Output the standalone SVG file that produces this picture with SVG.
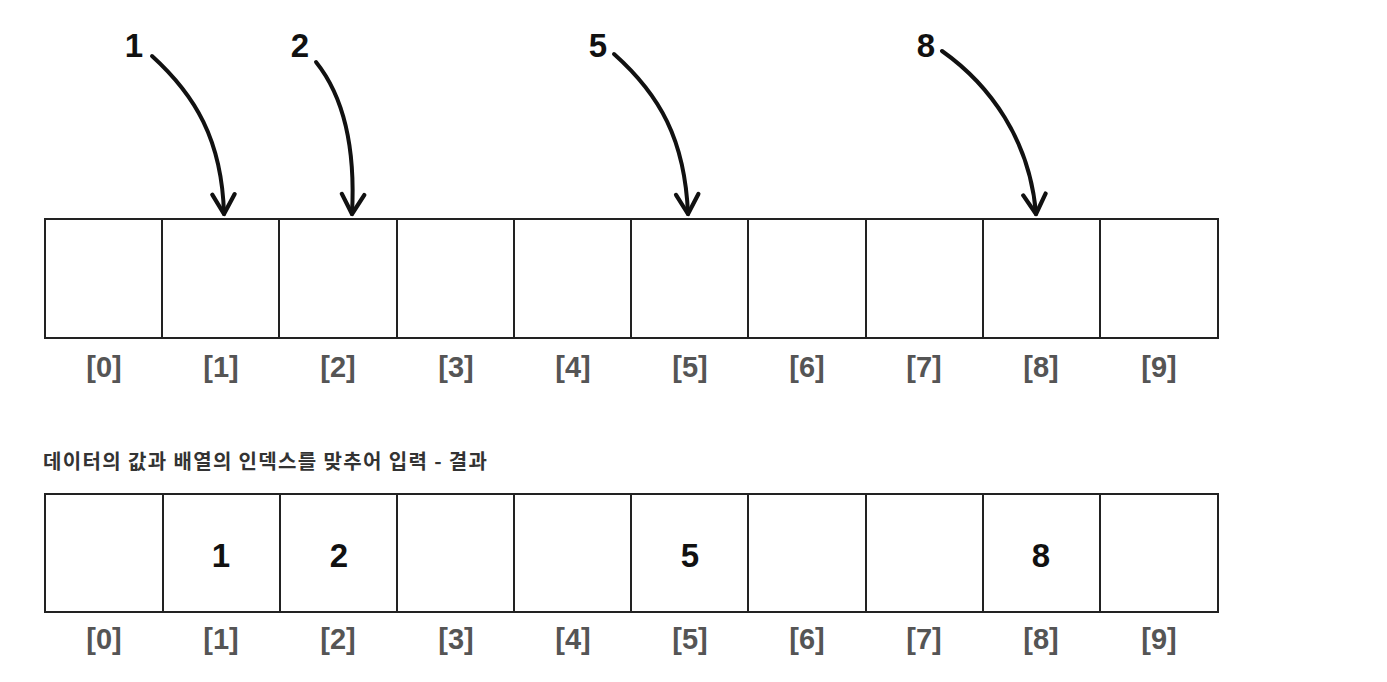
<svg xmlns="http://www.w3.org/2000/svg" width="1387" height="682" viewBox="0 0 1387 682">
<style>
.cell{fill:#fff;stroke:#222;stroke-width:2}
.idx{font-family:"Liberation Sans",Arial,sans-serif;font-size:29px;font-weight:bold;fill:#555;text-anchor:middle}
.num{font-family:"Liberation Sans",Arial,sans-serif;font-size:33px;font-weight:bold;fill:#111;text-anchor:middle}
.arr{fill:none;stroke:#111;stroke-width:4;stroke-linecap:round}
.cap{font-family:"Noto Sans CJK KR","Noto Sans",sans-serif;font-size:20px;font-weight:bold;fill:#333}
</style>
<defs>
<marker id="ah" viewBox="0 0 20 20" refX="16" refY="10" markerWidth="7" markerHeight="7" markerUnits="strokeWidth" orient="auto">
<path d="M2,2 L16,10 L2,18" fill="none" stroke="#111" stroke-width="3" stroke-linecap="round" stroke-linejoin="round"/>
</marker>
</defs>
<rect width="1387" height="682" fill="#fff"/>
<g id="labels-top">
<text class="num" x="134" y="57">1</text>
<text class="num" x="300" y="57">2</text>
<text class="num" x="598" y="57">5</text>
<text class="num" x="926" y="57">8</text>
</g>
<g id="connectors">
<path class="arr" d="M152,56 C195,95 222,140 224,214" marker-end="url(#ah)"/>
<path class="arr" d="M316,62 C340,92 356,140 352,214" marker-end="url(#ah)"/>
<path class="arr" d="M614,54 C660,95 685,140 688,214" marker-end="url(#ah)"/>
<path class="arr" d="M942,51 C990,85 1030,140 1036,214" marker-end="url(#ah)"/>
</g>
<g id="array-top">
<rect class="cell" x="45" y="219" width="117" height="119"/>
<rect class="cell" x="162" y="219" width="117" height="119"/>
<rect class="cell" x="279" y="219" width="118" height="119"/>
<rect class="cell" x="397" y="219" width="117" height="119"/>
<rect class="cell" x="514" y="219" width="117" height="119"/>
<rect class="cell" x="631" y="219" width="117" height="119"/>
<rect class="cell" x="748" y="219" width="118" height="119"/>
<rect class="cell" x="866" y="219" width="117" height="119"/>
<rect class="cell" x="983" y="219" width="117" height="119"/>
<rect class="cell" x="1100" y="219" width="118" height="119"/>
</g>
<g id="index-top">
<text class="idx" x="104" y="377">[0]</text>
<text class="idx" x="221" y="377">[1]</text>
<text class="idx" x="338" y="377">[2]</text>
<text class="idx" x="456" y="377">[3]</text>
<text class="idx" x="573" y="377">[4]</text>
<text class="idx" x="690" y="377">[5]</text>
<text class="idx" x="807" y="377">[6]</text>
<text class="idx" x="924" y="377">[7]</text>
<text class="idx" x="1041" y="377">[8]</text>
<text class="idx" x="1159" y="377">[9]</text>
</g>
<g id="caption">
<text class="cap" x="43" y="469" textLength="444" lengthAdjust="spacing">데이터의 값과 배열의 인덱스를 맞추어 입력 - 결과</text>
</g>
<g id="array-bottom">
<rect class="cell" x="45" y="494" width="118" height="118"/>
<rect class="cell" x="163" y="494" width="117" height="118"/>
<rect class="cell" x="280" y="494" width="117" height="118"/>
<rect class="cell" x="397" y="494" width="117" height="118"/>
<rect class="cell" x="514" y="494" width="117" height="118"/>
<rect class="cell" x="631" y="494" width="117" height="118"/>
<rect class="cell" x="748" y="494" width="118" height="118"/>
<rect class="cell" x="866" y="494" width="117" height="118"/>
<rect class="cell" x="983" y="494" width="117" height="118"/>
<rect class="cell" x="1100" y="494" width="118" height="118"/>
<text class="num" x="221" y="567">1</text>
<text class="num" x="339" y="567">2</text>
<text class="num" x="690" y="567">5</text>
<text class="num" x="1041" y="567">8</text>
</g>
<g id="index-bottom">
<text class="idx" x="104" y="649">[0]</text>
<text class="idx" x="221" y="649">[1]</text>
<text class="idx" x="338" y="649">[2]</text>
<text class="idx" x="456" y="649">[3]</text>
<text class="idx" x="573" y="649">[4]</text>
<text class="idx" x="690" y="649">[5]</text>
<text class="idx" x="807" y="649">[6]</text>
<text class="idx" x="924" y="649">[7]</text>
<text class="idx" x="1041" y="649">[8]</text>
<text class="idx" x="1159" y="649">[9]</text>
</g>
</svg>
